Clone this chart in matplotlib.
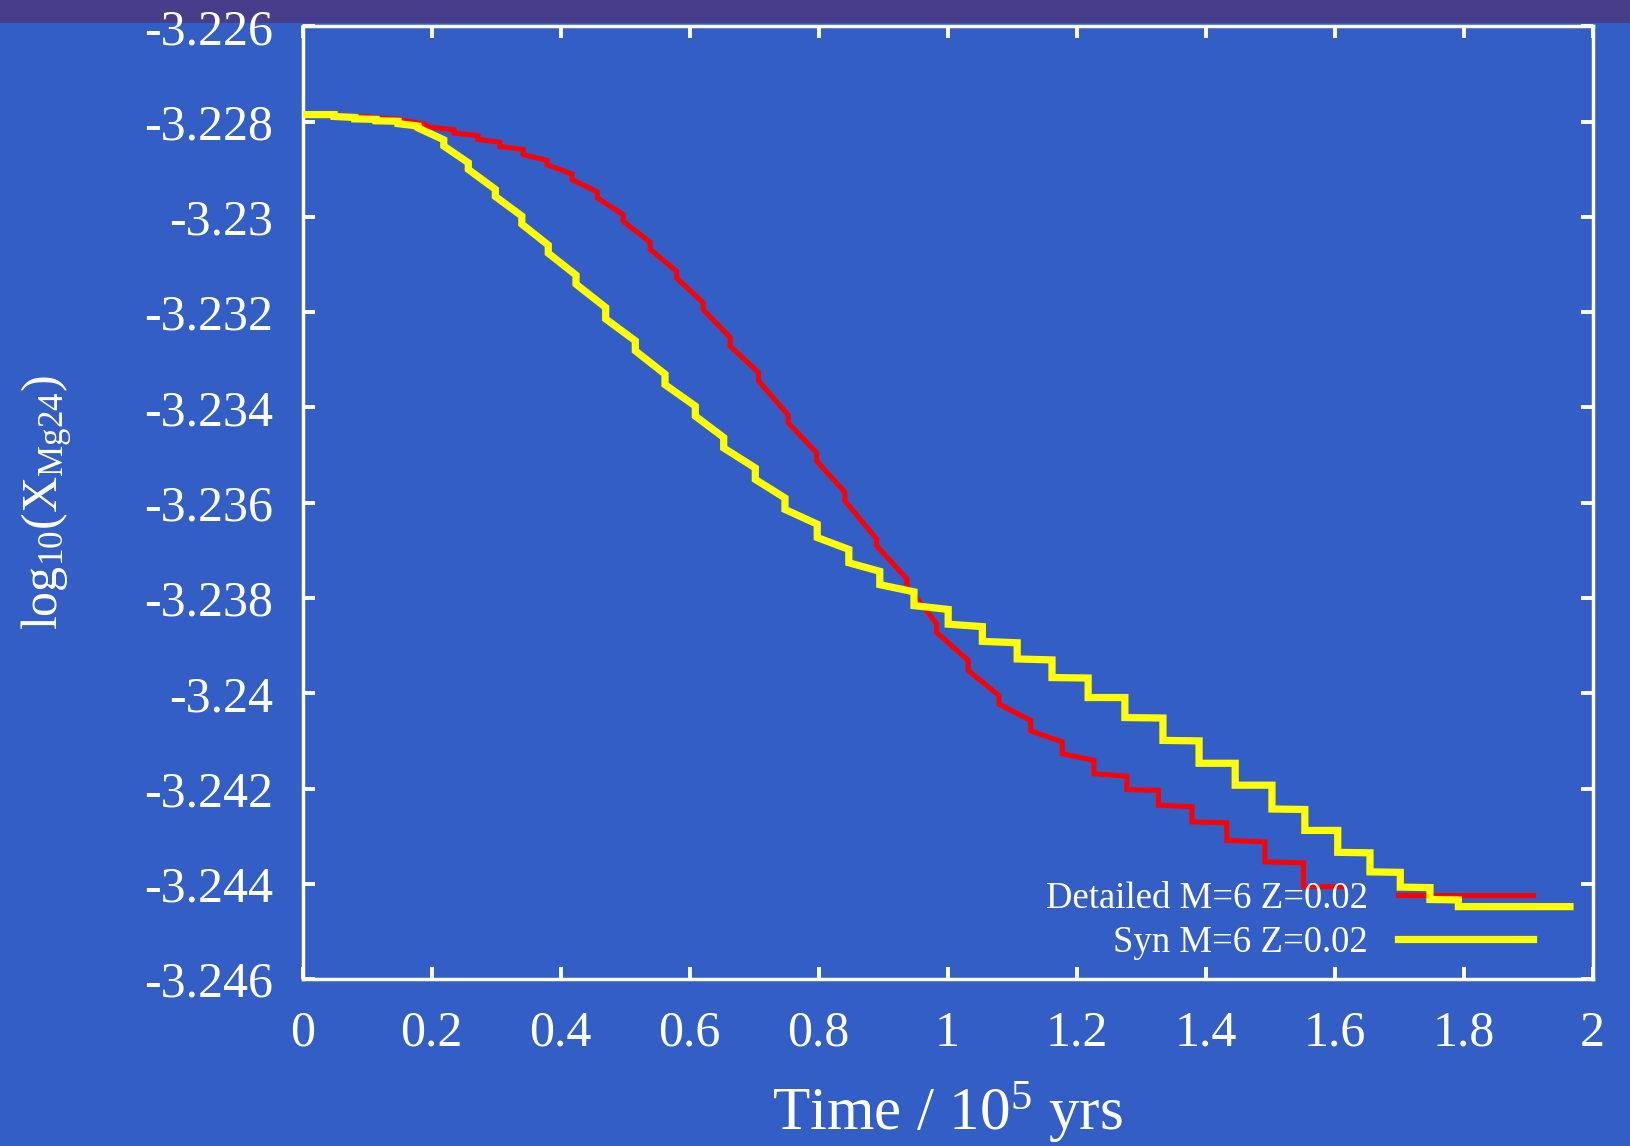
import matplotlib
matplotlib.use("Agg")
import matplotlib.pyplot as plt
import numpy as np
from matplotlib.patches import Rectangle

# detailed model: time of each step, value just after it, value just before the next one
det_t = [0.0, 0.057, 0.104, 0.151, 0.190, 0.235, 0.272, 0.306, 0.342, 0.379,
         0.418, 0.457, 0.497, 0.539, 0.580, 0.621, 0.663, 0.707, 0.753, 0.797,
         0.841, 0.890, 0.937, 0.983, 1.032, 1.080, 1.129, 1.178, 1.227, 1.278,
         1.327, 1.379, 1.433, 1.492, 1.552]
det_a = [-3.22785, -3.22788, -3.22791, -3.22796, -3.22810, -3.22824, -3.22837, -3.22852, -3.22869, -3.22890,
         -3.22922, -3.22960, -3.23009, -3.23068, -3.23128, -3.23194, -3.23271, -3.23344, -3.23432, -3.23512,
         -3.23596, -3.23690, -3.23774, -3.23872, -3.23952, -3.24023, -3.24079, -3.24127, -3.24169, -3.24202,
         -3.24235, -3.24270, -3.24309, -3.24354, -3.24406]
det_b = [-3.22787, -3.22790, -3.22795, -3.22805, -3.22817, -3.22829, -3.22843, -3.22858, -3.22881, -3.22910,
         -3.22947, -3.22995, -3.23053, -3.23114, -3.23180, -3.23253, -3.23327, -3.23416, -3.23495, -3.23578,
         -3.23676, -3.23760, -3.23854, -3.23931, -3.24005, -3.24057, -3.24102, -3.24141, -3.24174, -3.24204,
         -3.24238, -3.24272, -3.24312, -3.24356, -3.24406]
det_end = 1.614

# synthetic model, same layout
syn_t = [0.0, 0.049, 0.081, 0.114, 0.148, 0.179, 0.219, 0.257, 0.299, 0.340,
         0.381, 0.424, 0.470, 0.516, 0.562, 0.609, 0.653, 0.702, 0.748, 0.798,
         0.847, 0.895, 0.948, 1.001, 1.054, 1.108, 1.162, 1.218, 1.275, 1.334,
         1.390, 1.446, 1.503, 1.554, 1.605, 1.655, 1.702, 1.748, 1.792]
syn_a = [-3.22785, -3.22789, -3.22794, -3.22798, -3.22804, -3.22813, -3.22851, -3.22900, -3.22957, -3.23015,
         -3.23076, -3.23141, -3.23214, -3.23281, -3.23352, -3.23418, -3.23485, -3.23551, -3.23614, -3.23673,
         -3.23726, -3.23772, -3.23816, -3.23855, -3.23891, -3.23928, -3.23967, -3.24009, -3.24051, -3.24099,
         -3.24147, -3.24193, -3.24243, -3.24288, -3.24334, -3.24375, -3.24407, -3.24433, -3.24448]
syn_b = [-3.22785, -3.22791, -3.22795, -3.22799, -3.22809, -3.22838, -3.22886, -3.22942, -3.22998, -3.23059,
         -3.23122, -3.23190, -3.23260, -3.23330, -3.23397, -3.23463, -3.23527, -3.23590, -3.23645, -3.23698,
         -3.23744, -3.23787, -3.23824, -3.23860, -3.23894, -3.23930, -3.23968, -3.24009, -3.24052, -3.24100,
         -3.24147, -3.24193, -3.24244, -3.24288, -3.24335, -3.24376, -3.24408, -3.24434, -3.24448]
syn_end = 1.965

labels = ["Detailed M=6 Z=0.02", "Syn M=6 Z=0.02"]


def staircase(t, a, b, end):
    # each interval runs from (t[i], a[i]) to (t[i+1], b[i]); joins make the vertical drops
    t1 = list(t[1:]) + [end]
    xs = np.column_stack([t, t1]).ravel()
    ys = np.column_stack([a, b]).ravel()
    return xs, ys


bg = "#335ec6"
plt.rcParams['font.family'] = ['Liberation Serif', 'DejaVu Serif']
plt.rcParams['mathtext.fontset'] = 'custom'
plt.rcParams['mathtext.rm'] = 'Liberation Serif'
plt.rcParams['mathtext.it'] = 'Liberation Serif:italic'

fig = plt.figure(figsize=(16.3, 11.46), dpi=100, facecolor=bg)
fig.patches.append(Rectangle((0, 0.9802), 1, 0.0198, transform=fig.transFigure,
                             facecolor="#483d8b", edgecolor="none", zorder=-1))
ax = fig.add_axes([0.1856, 0.1457, 0.7914, 0.8312], facecolor=bg)

x1, y1 = staircase(det_t, det_a, det_b, det_end)
x2, y2 = staircase(syn_t, syn_a, syn_b, syn_end)
ax.plot(x1, y1, color="#ff0000", lw=3.6, label=labels[0], zorder=2,
        solid_joinstyle="miter")
ax.plot(x2, y2, color="#ffff00", lw=5.2, label=labels[1], zorder=3,
        solid_joinstyle="miter")

ax.set_xlim(0, 2)
ax.set_ylim(-3.246, -3.226)
ax.set_xticks(np.arange(0, 2.01, 0.2))
ax.set_yticks(np.arange(-3.246, -3.2259, 0.002))
ax.xaxis.set_major_formatter(plt.FormatStrFormatter('%g'))
ax.yaxis.set_major_formatter(plt.FuncFormatter(lambda v, p: '%g' % round(v, 3)))

for s in ax.spines.values():
    s.set_color("white")
    s.set_linewidth(2.5)
ax.tick_params(direction="in", length=8.5, width=2.8, color="white",
               labelcolor="white", labelsize=36, top=True, right=True)
ax.tick_params(axis="x", pad=22.5)
ax.tick_params(axis="y", pad=21)

ax.set_xlabel(r'Time / 10$^{5}$ yrs', fontsize=44, color="white", labelpad=17)
ax.set_ylabel(r'log$_{10}$(X$_{\rm Mg24}$)', fontsize=36, color="white", labelpad=50)

leg = ax.legend(loc="lower right", bbox_to_anchor=(0.954, 0.02), frameon=False,
                markerfirst=False, fontsize=26.5, labelcolor="white",
                handlelength=3.66, handletextpad=0.84, labelspacing=0.25,
                borderpad=0, borderaxespad=0)
leg.set_zorder(2.5)

fig.savefig("out.png", dpi=100, facecolor=bg)
